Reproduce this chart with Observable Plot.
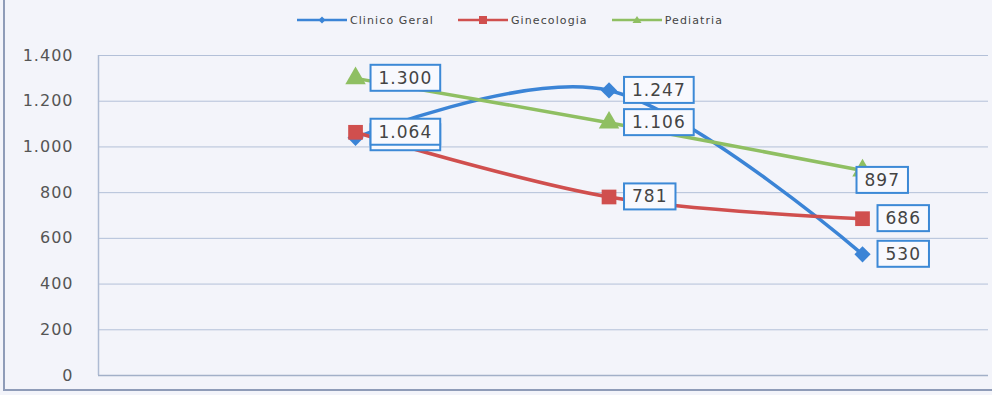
<!DOCTYPE html>
<html>
<head>
<meta charset="utf-8">
<script src="https://cdn.jsdelivr.net/npm/d3@7"></script>
<script src="https://cdn.jsdelivr.net/npm/@observablehq/plot@0.6"></script>
<style>
  html, body { margin: 0; padding: 0; background: #f3f4fa; }
  #wrap { position: relative; width: 992px; height: 395px; background: #f3f4fa; overflow: hidden; font-family: "DejaVu Sans", sans-serif; }
  #legend { position: absolute; left: 0; top: 0; width: 992px; height: 40px; display: flex; justify-content: center; align-items: center; gap: 24px; padding-left: 28px; box-sizing: border-box; }
  .item { display: flex; align-items: center; gap: 3px; font-size: 11px; color: #444; letter-spacing: 1.1px; }
  #chart { position: absolute; left: 0; top: 40px; }
  #chart svg text { letter-spacing: 1px; }
  .frameL { position: absolute; left: 3px; top: 0; width: 2px; height: 391px; background: #8f9cb8; }
  .frameB { position: absolute; left: 3px; top: 389px; width: 989px; height: 2px; background: #8f9cb8; }
</style>
</head>
<body>
<div id="wrap">
  <div id="legend"></div>
  <div id="chart"></div>
  <div class="frameL"></div>
  <div class="frameB"></div>
</div>
<script>
// ---- data ----
const series = ["Clinico Geral", "Ginecologia", "Pediatria"];
const periods = [1, 2, 3];
const clinicoGeral = [1040, 1247, 530];
const ginecologia = [1064, 781, 686];
const pediatria = [1300, 1106, 897];
const yTicks = [0, 200, 400, 600, 800, 1000, 1200, 1400];
const colors = ["#3b84d6", "#d04f4e", "#8fbf62"];
const symbols = ["diamond2", "square", "triangle"];

const values = [clinicoGeral, ginecologia, pediatria];
const rows = [];
series.forEach((s, k) => periods.forEach((p, j) => rows.push({series: s, i: p, value: values[k][j]})));

const loc = d3.formatLocale({decimal: ",", thousands: ".", grouping: [3], currency: ["R$", ""]});
const fmt = loc.format(",d");

// legend
const legend = document.getElementById("legend");
series.forEach((s, k) => {
  const item = document.createElement("div");
  item.className = "item";
  const sym = k === 0 ? '<path d="M25,2.5 L28.5,6 L25,9.5 L21.5,6Z" fill="' + colors[k] + '"/>'
            : k === 1 ? '<rect x="21" y="2" width="8" height="8" fill="' + colors[k] + '"/>'
            : '<path d="M25,2 L29.5,9 L20.5,9Z" fill="' + colors[k] + '"/>';
  item.innerHTML = '<svg width="50" height="12"><line x1="0" x2="50" y1="6" y2="6" stroke="' + colors[k] + '" stroke-width="2.6"/>' + sym + '</svg><span>' + s + '</span>';
  legend.appendChild(item);
});

const isShifted = d => d.series === "Pediatria" && d.i === 3;
const smooth = d3.curveCatmullRom.alpha(0);

const plot = Plot.plot({
  width: 992,
  height: 355,
  marginLeft: 98,
  marginRight: 4,
  marginTop: 15,
  marginBottom: 20,
  style: {background: "transparent", fontFamily: "DejaVu Sans", fontSize: "16px", color: "#555"},
  x: {domain: [-0.014, 3.497], axis: null},
  y: {domain: [0, 1400], ticks: yTicks, tickFormat: fmt, tickSize: 0, tickPadding: 25, label: null},
  color: {domain: series, range: colors},
  marks: [
    Plot.ruleY(yTicks, {stroke: "#b3c0d8", strokeWidth: 1}),
    Plot.ruleX([-0.014], {stroke: "#aebbd3", strokeWidth: 1.5}),
    Plot.ruleY([0], {stroke: "#a2b0c8", strokeWidth: 1.5}),
    Plot.line(rows, {x: "i", y: "value", z: "series", stroke: "series", strokeWidth: 3.5, curve: smooth}),
    Plot.dot(rows.filter(d => d.series === series[0]), {x: "i", y: "value", symbol: () => symbols[0], fill: colors[0], r: 7.3, stroke: "none"}),
    Plot.dot(rows.filter(d => d.series === series[1]), {x: "i", y: "value", symbol: () => symbols[1], fill: colors[1], r: 8.3, stroke: "none"}),
    Plot.dot(rows.filter(d => d.series === series[2]), {x: "i", y: "value", symbol: () => symbols[2], fill: colors[2], r: 7.6, stroke: "none"}),
    Plot.text(rows.filter(d => !isShifted(d)), {x: "i", y: "value", text: d => fmt(d.value), textAnchor: "start", dx: 23, fontSize: 17, fill: "#444"}),
    Plot.text(rows.filter(isShifted), {x: "i", y: "value", text: d => fmt(d.value), textAnchor: "start", dx: 2, dy: 10, fontSize: 17, fill: "#444"})
  ]
});
document.getElementById("chart").appendChild(plot);

// boxes around data labels
plot.querySelectorAll('g[aria-label="text"] text').forEach(t => {
  const bb = t.getBBox();
  const r = document.createElementNS("http://www.w3.org/2000/svg", "rect");
  r.setAttribute("x", bb.x - 8);
  r.setAttribute("y", bb.y - 3);
  r.setAttribute("width", bb.width + 16);
  r.setAttribute("height", bb.height + 6);
  r.setAttribute("fill", "#f8f9fe");
  r.setAttribute("stroke", "#3c89d6");
  r.setAttribute("stroke-width", 2);
  if (t.getAttribute("transform")) r.setAttribute("transform", t.getAttribute("transform"));
  t.parentNode.insertBefore(r, t);
});
</script>
</body>
</html>
